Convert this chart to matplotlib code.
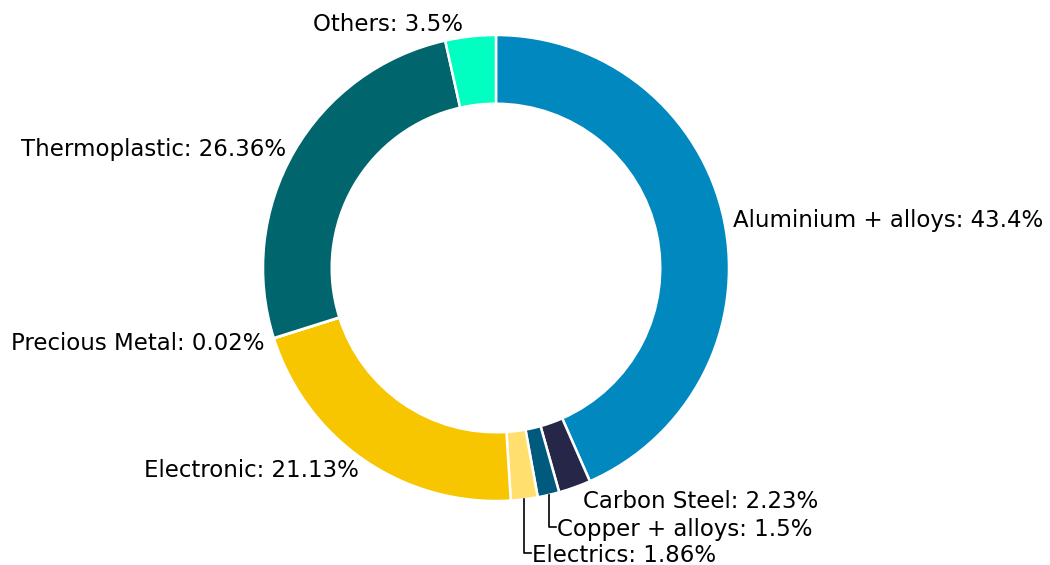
import numpy as np
import matplotlib
matplotlib.use("Agg")
import matplotlib.pyplot as plt

categories = ["Aluminium + alloys", "Carbon Steel", "Copper + alloys", "Electrics",
              "Electronic", "Precious Metal", "Thermoplastic", "Others"]
values = [43.4, 2.23, 1.5, 1.86, 21.13, 0.02, 26.36, 3.5]
value_labels = ["43.4%", "2.23%", "1.5%", "1.86%", "21.13%", "0.02%", "26.36%", "3.5%"]
colors = ["#0088bf", "#262649", "#005a7e", "#ffdf6e", "#f7c600", "#8a8a8a", "#00656d", "#00ffc0"]

fig = plt.figure(figsize=(10.5, 5.65), dpi=100)
R_PX = 233.0
cx, cy = 496.0, 268.0
ax = fig.add_axes([0, 0, 1, 1])

wedges, _ = ax.pie(values, colors=colors, startangle=90, counterclock=False,
                   radius=1.0, wedgeprops=dict(width=0.295, edgecolor="white", linewidth=1.8))
ax.set_xlim(-cx / R_PX, (1050 - cx) / R_PX)
ax.set_ylim(-(565 - cy) / R_PX, cy / R_PX)
ax.set_aspect("equal")
ax.axis("off")

FS = 16.5
VA = "center_baseline"
labels = [f"{c}: {v}" for c, v in zip(categories, value_labels)]
for i, (w, lab) in enumerate(zip(wedges, labels)):
    mid = np.deg2rad((w.theta1 + w.theta2) / 2)
    x, y = np.cos(mid), np.sin(mid)
    if categories[i] == "Carbon Steel":
        ax.text(0.373, -0.991, lab, ha="left", va=VA, fontsize=FS)
    elif categories[i] in ("Copper + alloys", "Electrics"):
        ty = -1.112 if categories[i] == "Copper + alloys" else -1.223
        ax.plot([x, x, x + 0.03], [y, ty, ty], color="black", lw=1.2)
        ax.text(x + 0.035, ty, lab, ha="left", va=VA, fontsize=FS)
    else:
        r = 1.04
        if categories[i] == "Others":
            ax.text(-0.142, 1.056, lab, ha="right", va=VA, fontsize=FS)
            continue
        ha = "left" if x > 0 else "right"
        ax.text(r * x, r * y, lab, ha=ha, va=VA, fontsize=FS)

fig.savefig("out.png", dpi=100)
